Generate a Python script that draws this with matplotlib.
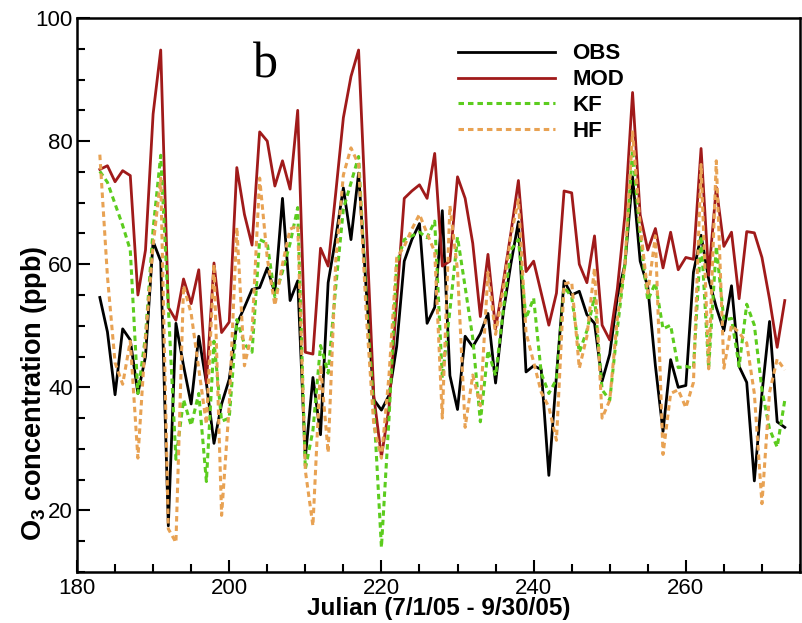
import numpy as np
import matplotlib
matplotlib.use("Agg")
import matplotlib.pyplot as plt
from matplotlib.ticker import MultipleLocator

plt.rcParams['mathtext.default'] = 'regular'

# Julian days (7/2/05 - 9/30/05)
days = np.arange(183, 274)

obs = [54.6, 49.0, 38.8, 49.5, 47.7, 39.0, 45.0, 63.7, 60.5, 17.5,
       50.4, 43.5, 37.3, 48.3, 40.7, 30.9, 37.3, 41.3, 50.3, 53.0,
       55.9, 56.2, 59.4, 55.3, 70.7, 54.1, 57.3, 28.5, 41.6, 32.3,
       57.0, 64.3, 72.4, 64.0, 74.8, 56.0, 38.0, 36.3, 38.7, 46.6,
       60.5, 64.0, 66.6, 50.4, 53.0, 68.7, 41.9, 36.4, 48.3, 46.6,
       48.7, 52.0, 40.7, 52.0, 60.0, 66.9, 42.5, 43.5, 42.9, 25.7,
       41.9, 57.3, 55.0, 55.6, 51.8, 50.4, 41.0, 45.4, 54.7, 60.0,
       74.2, 60.5, 56.3, 43.5, 32.8, 44.5, 40.0, 40.3, 58.7, 64.7,
       57.6, 53.0, 49.2, 56.5, 43.4, 40.8, 24.8, 39.0, 50.7, 34.4,
       33.5]

mod = [75.4, 76.0, 73.4, 75.2, 74.4, 55.0, 62.3, 84.4, 94.8, 53.0,
       50.9, 57.6, 53.6, 59.1, 40.7, 60.2, 48.9, 50.6, 75.7, 68.1,
       63.1, 81.5, 80.0, 72.7, 76.8, 72.2, 85.0, 45.7, 45.4, 62.6,
       59.7, 71.6, 83.8, 90.5, 94.8, 66.7, 38.6, 28.7, 36.7, 54.0,
       70.7, 71.9, 72.9, 70.7, 78.0, 59.7, 60.5, 74.2, 70.7, 63.4,
       51.5, 61.6, 49.5, 57.0, 65.0, 73.6, 58.8, 60.5, 55.3, 50.1,
       55.3, 71.9, 71.6, 60.0, 57.0, 64.6, 50.1, 47.7, 56.0, 68.0,
       87.9, 68.0, 62.3, 65.8, 59.4, 65.2, 59.1, 61.1, 60.8, 78.8,
       58.2, 72.5, 62.9, 65.2, 54.4, 65.3, 65.1, 61.1, 54.3, 46.5,
       54.1]

kf = [75.1, 73.3, 69.8, 66.3, 62.3, 39.0, 48.3, 65.7, 77.7, 53.0,
      28.3, 38.0, 33.8, 39.0, 24.7, 47.5, 34.5, 35.0, 51.0, 47.0,
      45.7, 64.0, 63.4, 54.7, 58.8, 63.4, 69.2, 26.7, 33.0, 46.8,
      42.3, 56.3, 69.0, 73.2, 77.5, 54.0, 36.7, 14.0, 35.0, 60.0,
      64.0, 64.6, 65.2, 64.3, 67.0, 41.5, 52.5, 64.4, 56.3, 48.0,
      34.4, 46.0, 41.9, 52.4, 62.3, 64.0, 51.2, 54.5, 42.3, 39.0,
      41.3, 56.3, 54.7, 45.7, 49.2, 54.7, 39.6, 37.9, 49.5, 60.0,
      78.6, 64.6, 54.1, 57.0, 49.5, 50.1, 43.2, 43.4, 43.1, 64.6,
      43.1, 62.9, 50.9, 51.2, 43.4, 53.5, 50.1, 39.6, 33.2, 30.3,
      37.9]

hf = [77.8, 58.0, 44.0, 40.5, 47.5, 28.5, 48.0, 63.0, 74.0, 17.0,
      14.8, 56.5, 52.0, 43.0, 34.0, 60.0, 19.2, 37.0, 66.0, 43.5,
      49.0, 74.0, 61.0, 53.3, 60.0, 65.7, 66.3, 26.5, 17.5, 43.6,
      29.4, 60.5, 74.5, 78.9, 76.2, 52.0, 33.8, 28.5, 42.0, 61.0,
      62.9, 65.7, 68.1, 65.0, 62.0, 35.0, 69.5, 59.0, 33.5, 42.0,
      37.0, 58.7, 48.6, 56.0, 64.5, 70.5, 48.9, 44.1, 39.2, 36.8,
      31.4, 56.8, 57.1, 43.1, 48.3, 59.4, 35.0, 37.9, 51.2, 60.0,
      81.5, 66.3, 55.3, 64.6, 29.1, 39.0, 39.6, 36.7, 40.8, 76.2,
      43.0, 76.8, 43.1, 50.1, 48.9, 47.2, 39.0, 21.1, 39.2, 44.6,
      42.8]

fig = plt.figure(figsize=(8.02, 6.23), dpi=100)
ax = fig.add_axes([77 / 802, 1 - 572 / 623, 723 / 802, 554 / 623])

ax.plot(days, obs, color='black', lw=2.0, label='OBS', zorder=3)
ax.plot(days, mod, color='#a01a1a', lw=2.0, label='MOD', zorder=3)
ax.plot(days, kf, color='#5ccc1e', lw=2.2, dashes=(1.8, 1.3), label='KF', zorder=4)
ax.plot(days, hf, color='#e8a253', lw=2.2, dashes=(1.8, 1.3), label='HF', zorder=5)

ax.set_xlim(180, 275)
ax.set_ylim(10, 100)
ax.xaxis.set_major_locator(MultipleLocator(20))
ax.xaxis.set_minor_locator(MultipleLocator(5))
ax.yaxis.set_major_locator(MultipleLocator(20))
ax.yaxis.set_minor_locator(MultipleLocator(5))
ax.tick_params(which='both', direction='in', top=False, right=False, width=1.5)
ax.tick_params(which='major', length=9)
ax.tick_params(which='minor', length=5.5)
ax.tick_params(axis='x', which='major', pad=4)
ax.tick_params(axis='y', which='major', pad=3)

for s in ax.spines.values():
    s.set_linewidth(1.8)

sans = ['Liberation Sans', 'DejaVu Sans']
for lab in ax.get_xticklabels() + ax.get_yticklabels():
    lab.set_family(sans)
    lab.set_fontsize(16)

ax.set_xlabel('Julian (7/1/05 - 9/30/05)', family=sans, fontsize=17.5,
              fontweight='bold')
ax.xaxis.set_label_coords(0.5, -0.046)
ax.set_ylabel('O$_3$ concentration (ppb)', family=sans,
              fontsize=19.5, fontweight='bold')
ax.yaxis.set_label_coords(-0.039, 0.323)

ax.text(0.26, 0.915, 'b', transform=ax.transAxes, fontsize=36,
        family=['Liberation Serif', 'DejaVu Serif'], ha='center', va='center')

leg = ax.legend(loc='upper left', bbox_to_anchor=(0.527, 0.954), frameon=False,
                borderpad=0, borderaxespad=0, handlelength=4.37, handletextpad=0.77,
                labelspacing=0.22,
                prop={'family': sans, 'weight': 'bold', 'size': 16})

fig.savefig('out.png', dpi=100)
